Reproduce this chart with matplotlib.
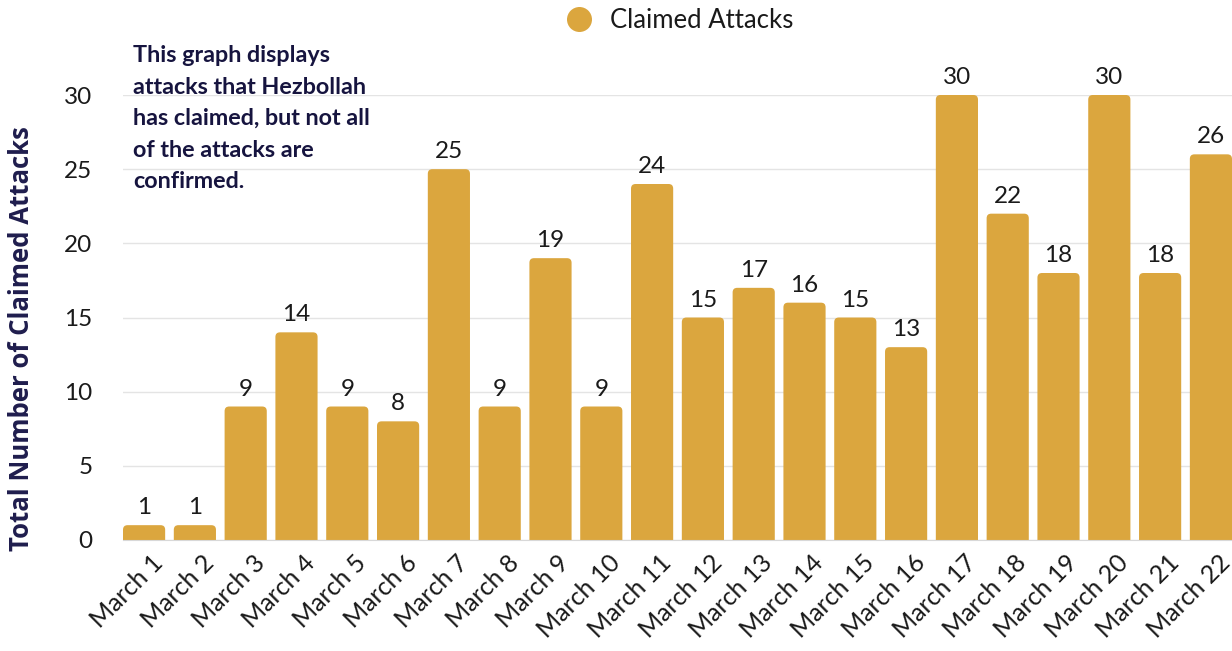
import matplotlib.pyplot as plt
from matplotlib.patches import FancyBboxPatch
from matplotlib.lines import Line2D
import matplotlib.transforms as mtransforms

days = ["March 1", "March 2", "March 3", "March 4", "March 5", "March 6",
        "March 7", "March 8", "March 9", "March 10", "March 11", "March 12",
        "March 13", "March 14", "March 15", "March 16", "March 17", "March 18",
        "March 19", "March 20", "March 21", "March 22"]
attacks = [1, 1, 9, 14, 9, 8, 25, 9, 19, 9, 24, 15, 17, 16, 15, 13, 30, 22,
           18, 30, 18, 26]
yticks = [0, 5, 10, 15, 20, 25, 30]

bar_color = "#DBA63E"
navy = "#16143F"
plt.rcParams["font.family"] = ["Lato", "DejaVu Sans"]

fig = plt.figure(figsize=(12.32, 6.51), dpi=100)
ax = fig.add_axes([123 / 1232, 1 - 540 / 651, 1 - 123 / 1232, (540 - 95) / 651])

width = 0.83
x = list(range(len(days)))
bars = ax.bar(x, attacks, width=width, color=bar_color, zorder=2)

ax.set_xlim(-width / 2, len(days) - 1 + width / 2)
ax.set_ylim(0, 30)

# swap the plain bars for ones with rounded tops
fig.canvas.draw()
bbox = ax.get_window_extent()
px_per_x = bbox.width / (ax.get_xlim()[1] - ax.get_xlim()[0])
px_per_y = bbox.height / (ax.get_ylim()[1] - ax.get_ylim()[0])
aspect = px_per_x / px_per_y
for b in bars:
    b.set_visible(False)
    rounded = FancyBboxPatch((b.get_x(), -1), b.get_width(), b.get_height() + 1,
                             boxstyle="round,pad=0,rounding_size=0.09",
                             mutation_aspect=aspect, facecolor=bar_color,
                             edgecolor="none", zorder=2)
    ax.add_patch(rounded)

for xi, v in zip(x, attacks):
    ax.annotate(str(v), (xi, v), xytext=(0, 5), textcoords="offset points",
                ha="center", va="bottom", fontsize=17.5, color="#1a1a1a",
                annotation_clip=False)

ax.set_yticks(yticks)
ax.yaxis.grid(True, color="#e4e4e4", linewidth=1, zorder=0)
ax.set_axisbelow(True)
for side in ["top", "right", "left"]:
    ax.spines[side].set_visible(False)
ax.spines["bottom"].set_color("#d8d8d8")
ax.tick_params(axis="both", length=0, labelsize=17.5, colors="#1a1a1a")
ax.tick_params(axis="y", pad=22)

ax.set_xticks(x)
ax.set_xticklabels(days, rotation=45, ha="right", rotation_mode="anchor",
                   fontsize=18)
offset = mtransforms.ScaledTranslation(7 / 100, -6 / 100, fig.dpi_scale_trans)
for lbl in ax.get_xticklabels():
    lbl.set_transform(lbl.get_transform() + offset)

fig.text(22 / 1232, 1 - 339 / 651, "Total Number of Claimed Attacks",
         rotation=90, ha="center", va="center", fontsize=18.5,
         fontweight="bold", color="#1F1D4D", family=["Open Sans", "DejaVu Sans"])

fig.text(133 / 1232, 1 - 45 / 651,
         "This graph displays\nattacks that Hezbollah\nhas claimed, but not all\n"
         "of the attacks are\nconfirmed.",
         ha="left", va="top", fontsize=16.8, fontweight="bold", color=navy,
         linespacing=1.62)

handle = Line2D([], [], marker="o", linestyle="none", markersize=18,
                markerfacecolor=bar_color, markeredgecolor="none")
fig.legend([handle], ["Claimed Attacks"], loc="center",
           bbox_to_anchor=(673 / 1232, 1 - 20 / 651), frameon=False,
           fontsize=18.5, handletextpad=0.2, labelcolor="#1a1a1a")

fig.savefig("out.png", dpi=100)
